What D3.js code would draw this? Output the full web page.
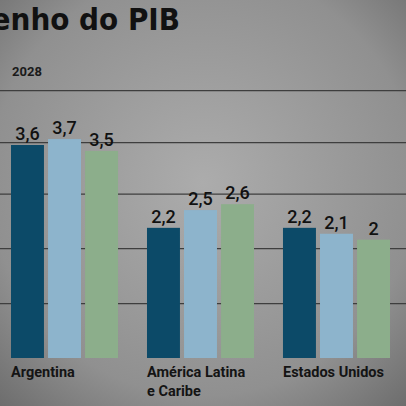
<!DOCTYPE html>
<html><head><meta charset="utf-8">
<script src="https://cdn.jsdelivr.net/npm/d3@7"></script>
<style>body{margin:0;background:#888}svg{display:block}</style>
</head><body><div id="chart"></div>
<script>
const categories = [["Argentina"], ["América Latina", "e Caribe"], ["Estados Unidos"]];
const series = ["s1", "s2", "s3"];
const values = [[3.6, 3.7, 3.5], [2.2, 2.5, 2.6], [2.2, 2.1, 2]];
const gridValues = [0.92, 1.85, 2.77, 3.64, 4.52];
const colors = ["#0c4a68", "#8db4cc", "#8cae8b"];

const W = 406, H = 406;
const svg = d3.select("#chart").append("svg").attr("width", W).attr("height", H)
  .style("font-family", "Roboto, sans-serif");

// fundo
const defs = svg.append("defs");
const grad = defs.append("radialGradient").attr("id", "bg").attr("cx", "50%").attr("cy", "45%").attr("r", "75%");
grad.append("stop").attr("offset", "0%").attr("stop-color", "#acacac");
grad.append("stop").attr("offset", "70%").attr("stop-color", "#909090");
grad.append("stop").attr("offset", "100%").attr("stop-color", "#6c6c6c");
svg.append("rect").attr("width", W).attr("height", H).attr("fill", "url(#bg)");

const y = d3.scaleLinear().domain([0, 3.6]).range([358, 145]);
const x0 = d3.scaleBand().domain(d3.range(categories.length)).range([11, 390]).paddingInner(0.213).paddingOuter(0);
const x1 = d3.scaleBand().domain(series).range([0, x0.bandwidth()]).paddingInner(0.11).paddingOuter(0);

svg.selectAll(".grid").data(gridValues).enter().append("line")
  .attr("x1", 0).attr("x2", W).attr("y1", d => y(d)).attr("y2", d => y(d))
  .attr("stroke", "#3e3e3e").attr("stroke-width", 1.2);

const g = svg.selectAll(".grp").data(values).enter().append("g")
  .attr("transform", (d, i) => `translate(${x0(i)},0)`);
g.selectAll("rect").data(d => d).enter().append("rect")
  .attr("x", (d, i) => x1(series[i])).attr("width", x1.bandwidth())
  .attr("y", d => y(d)).attr("height", d => y(0) - y(d))
  .attr("fill", (d, i) => colors[i]);
g.selectAll(".v").data(d => d).enter().append("text")
  .attr("x", (d, i) => x1(series[i]) + x1.bandwidth() / 2).attr("y", d => y(d) - 5)
  .attr("text-anchor", "middle").attr("font-size", 18).attr("font-weight", 500).attr("fill", "#111")
  .text(d => String(d).replace(".", ","));

svg.selectAll(".cat").data(categories).enter().append("text")
  .attr("x", (d, i) => x0(i)).attr("y", 377)
  .attr("font-size", 14.5).attr("font-weight", "bold").attr("fill", "#141414")
  .selectAll("tspan").data(d => d).enter().append("tspan")
  .attr("x", function () { return d3.select(this.parentNode).attr("x"); })
  .attr("dy", (d, i) => i ? 19 : 0).text(d => d);

svg.append("text").attr("x", 180).attr("y", 30).attr("text-anchor", "end")
  .attr("font-size", 31).attr("font-weight", 900).attr("fill", "#111")
  .attr("font-family", "'DejaVu Sans Condensed', sans-serif").text("Desempenho do PIB");
svg.append("text").attr("x", 12).attr("y", 76).attr("font-size", 13).attr("font-weight", "bold")
  .attr("fill", "#1a1a1a").text("2028");
</script></body></html>
